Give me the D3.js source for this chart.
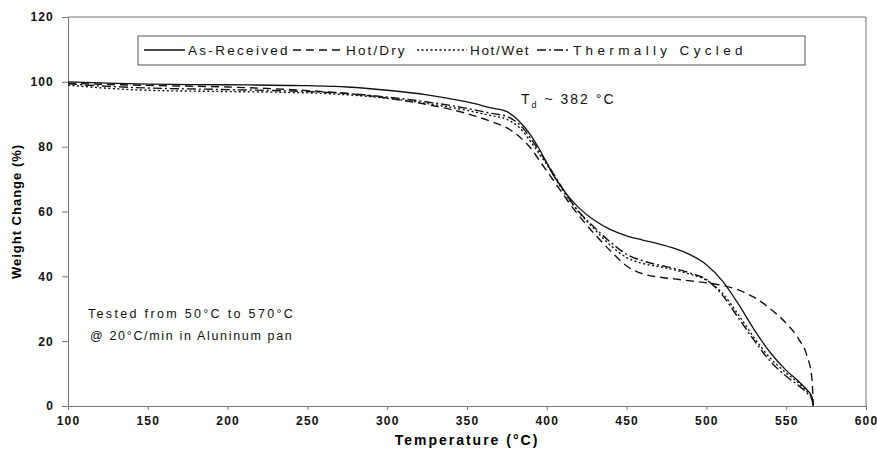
<!DOCTYPE html>
<html>
<head>
<meta charset="utf-8">
<script src="https://cdn.jsdelivr.net/npm/d3@7"></script>
<style>
  body { margin: 0; background: #fff; }
  svg { font-family: "Liberation Sans", Arial, sans-serif; }
  .tick text { font-weight: bold; font-size: 12px; letter-spacing: 1.2px; fill: #111; }
  .axis path, .axis line { stroke: #777; }
  .leg { font-size: 13.5px; letter-spacing: 2.4px; fill: #111; }
  .note { font-size: 12.5px; letter-spacing: 1.2px; fill: #111; }
</style>
</head>
<body>
<svg id="chart" width="877" height="449"></svg>
<script>
// temperature (°C) sample points shared by all curves
const temps = [100,125,150,200,250,275,300,325,350,365,375,383,390,395,400,405,410,415,420,430,440,450,460,470,480,490,500,510,520,530,540,550,558,563,566,567]
const asReceived = [100,99.6,99.3,99.1,98.8,98.4,97.4,96,93.8,92,90.8,87.7,83.5,79.5,75,70.5,67,63.8,61.2,57.2,54.4,52.5,51.2,50,48.6,46.6,43.6,38.6,31.5,23.5,16.5,11,7.5,5,3,0]
const hotDry = [99.6,99.2,98.9,98.4,97.3,96.4,95,93,90.2,87.8,85.8,83,79.5,76,72.5,69,65.5,62,58.8,53,47.8,43.2,40.8,39.8,39.2,38.6,38,37.2,35.8,33.5,30,25.5,20.5,15.5,9,0]
const hotWet = [99,98,97.4,97,96.6,96,94.9,93.3,91.2,89.6,88.4,85.8,81.5,78,74.5,70.5,66.5,63,59.8,54.5,49.5,45.8,44,43,42,40.6,38.8,34.8,28.2,21,14.8,10.2,7,4.5,2.5,0]
const thermCycled = [99.4,98.6,98.1,97.6,97,96.4,95.3,93.8,91.8,90.3,89.3,86.8,82.5,78.8,75,71,67,63.2,60,55,50.5,46.8,44.8,43.5,42.4,41,39,34.2,27.2,20.2,13.8,9.2,6.2,4,2.2,0]

const seriesNames = ["As-Received","Hot/Dry","Hot/Wet","Thermally Cycled"]
const seriesValues = [asReceived, hotDry, hotWet, thermCycled]
const dashes = [null, "8,5", "2,2.5", "9,3,2,3"]

const xTicks = [100,150,200,250,300,350,400,450,500,550,600]
const yTicks = [0,20,40,60,80,100,120]

let svg = d3.select("#chart")
let x0 = 68, x1 = 866, y0 = 17, y1 = 406

let xScale = d3.scaleLinear().domain([100,600]).range([x0,x1])
let yScale = d3.scaleLinear().domain([0,120]).range([y1,y0])

// plot frame (top and right)
svg.append("path")
    .attr("d", `M${x0},${y0}H${x1}V${y1}`)
    .attr("fill","none").attr("stroke","#777")

// axes
let x_axis = d3.axisBottom(xScale).tickValues(xTicks).tickSize(4).tickPadding(6).tickFormat(d3.format("d"))
let y_axis = d3.axisLeft(yScale).tickValues(yTicks).tickSize(6).tickPadding(8).tickFormat(d3.format("d"))
svg.append("g").attr("class","axis")
    .attr("transform", `translate(0,${y1})`)
    .call(x_axis)
svg.append("g").attr("class","axis")
    .attr("transform", `translate(${x0},0)`)
    .call(y_axis)
svg.selectAll(".axis .domain").attr("stroke","#777")

// curves
let line = d3.line().curve(d3.curveMonotoneX)
    .x((d,i) => xScale(temps[i]))
    .y(d => yScale(d))
seriesValues.forEach((vals,k) => {
    svg.append("path")
        .datum(vals)
        .attr("d", line)
        .attr("fill","none")
        .attr("stroke","#111")
        .attr("stroke-width", k == 0 ? 1.3 : 1.4)
        .attr("stroke-dasharray", dashes[k])
})

// legend
let legend = svg.append("g")
legend.append("rect")
    .attr("x",138).attr("y",36).attr("width",667).attr("height",29)
    .attr("fill","#fff").attr("stroke","#555")
let legX = [144, 293, 417, 537]
let legW = [41, 50, 50, 33]
let legLen = [102, 61, 61, 172]
seriesNames.forEach((name,k) => {
    legend.append("line")
        .attr("x1",legX[k]).attr("x2",legX[k]+legW[k])
        .attr("y1",50).attr("y2",50)
        .attr("stroke","#111").attr("stroke-width",1.3)
        .attr("stroke-dasharray", dashes[k])
    legend.append("text")
        .attr("class","leg")
        .attr("x",legX[k]+legW[k]+3).attr("y",55)
        .attr("textLength",legLen[k]).attr("lengthAdjust","spacing")
        .text(name)
})

// annotations
let td = svg.append("text").attr("class","note")
    .attr("x",521).attr("y",104).style("font-size","14px").style("letter-spacing","2px")
td.append("tspan").text("T")
td.append("tspan").attr("dy",4).style("font-size","9px").text("d")
td.append("tspan").attr("dy",-4).text(" ~ 382 °C")

svg.append("text").attr("class","note")
    .attr("x",88).attr("y",318)
    .attr("textLength",206).attr("lengthAdjust","spacing")
    .text("Tested from 50°C to 570°C")
svg.append("text").attr("class","note")
    .attr("x",90).attr("y",340)
    .attr("textLength",203).attr("lengthAdjust","spacing")
    .text("@ 20°C/min in Aluninum pan")

// axis titles
svg.append("text")
    .attr("x",(x0+x1)/2).attr("y",445)
    .attr("text-anchor","middle")
    .style("font-weight","bold").style("font-size","14px").style("letter-spacing","2px")
    .text("Temperature (°C)")
svg.append("text")
    .attr("transform", `translate(21,${(y0+y1)/2}) rotate(270)`)
    .attr("text-anchor","middle")
    .style("font-weight","bold").style("font-size","13px").style("letter-spacing","1px")
    .text("Weight Change (%)")
</script>
</body>
</html>
